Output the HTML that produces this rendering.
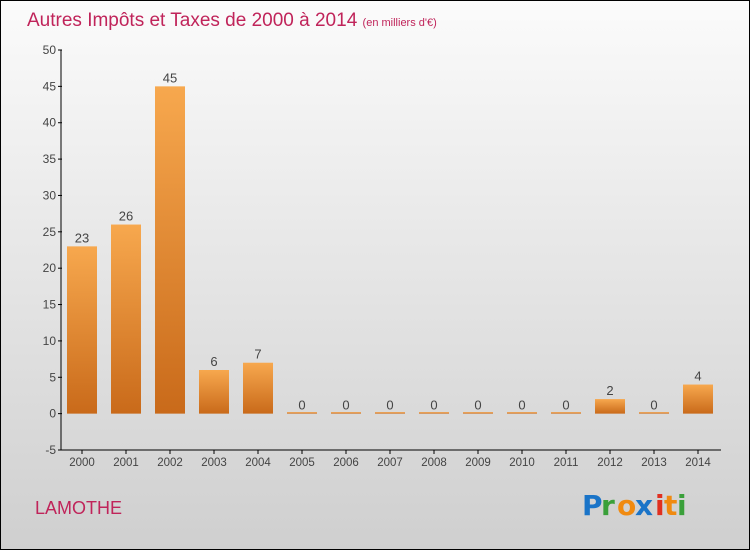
<!DOCTYPE html>
<html><head><meta charset="utf-8"><style>
html,body{margin:0;padding:0}
body{width:750px;height:550px;overflow:hidden;font-family:"Liberation Sans","DejaVu Sans",sans-serif}
</style></head><body>
<svg id="chart" width="750" height="550" xmlns="http://www.w3.org/2000/svg">
<defs>
<linearGradient id="bg" x1="0" y1="0" x2="0" y2="1"><stop offset="0" stop-color="#fbfbfb"/><stop offset="1" stop-color="#cfcfcf"/></linearGradient>
<linearGradient id="bar" x1="0" y1="0" x2="0" y2="1"><stop offset="0" stop-color="#f7a84e"/><stop offset="1" stop-color="#c96a1a"/></linearGradient>
</defs>
<rect x="0.5" y="0.5" width="749" height="549" fill="url(#bg)" stroke="#000"/>
<text x="27" y="26" font-size="19" fill="#c0245a">Autres Impôts et Taxes de 2000 à 2014 <tspan font-size="11">(en milliers d'€)</tspan></text>
<g id="plot"></g>
<text x="35" y="514" font-size="18" fill="#c0245a">LAMOTHE</text>
<g font-size="28" font-weight="bold" font-family="'DejaVu Sans',sans-serif">
<text x="582" y="515" fill="#1a74c8">P</text><text x="601" y="515" fill="#3aa03a">r</text><text x="617" y="515" fill="#f08a10">o</text><text x="635" y="515" fill="#1a74c8">x</text><text x="655" y="515" fill="#e03020">i</text><text x="664" y="515" fill="#f08a10">t</text><text x="677" y="515" fill="#3aa03a">i</text>
</g>
</svg>
<script>
const categories=["2000","2001","2002","2003","2004","2005","2006","2007","2008","2009","2010","2011","2012","2013","2014"];
const values=[23,26,45,6,7,0,0,0,0,0,0,0,2,0,4];
const yTicks=[-5,0,5,10,15,20,25,30,35,40,45,50];
const yMin=-5,yMax=50,plotTop=50,plotBottom=450;
const yScale=v=>plotBottom-(v-yMin)/(yMax-yMin)*(plotBottom-plotTop);
const xScale=i=>82+i*44;
const NS="http://www.w3.org/2000/svg";
const g=document.getElementById('plot');
function mk(t,a){const e=document.createElementNS(NS,t);for(const k in a)e.setAttribute(k,a[k]);g.appendChild(e);return e;}
const ax=mk('line',{x1:61,y1:plotTop,x2:61,y2:plotBottom,stroke:'#000'});


const bx=mk('line',{x1:61,y1:plotBottom,x2:721,y2:plotBottom,stroke:'#000'});


yTicks.forEach(v=>{
 const tk=mk('line',{x1:58,x2:62,y1:yScale(v),y2:yScale(v),stroke:'#000'});
 
 
 const t=mk('text',{x:56,y:yScale(v)+4,'font-size':12,'text-anchor':'end',fill:'#444'});
 t.textContent=v;
 
 
});
categories.forEach((c,i)=>{
 const cx=xScale(i),v=values[i];
 const tk=mk('line',{x1:cx,x2:cx,y1:plotBottom,y2:plotBottom+4,stroke:'#000'});
 
 
 const t=mk('text',{x:cx,y:plotBottom+16,'font-size':11.5,'text-anchor':'middle',fill:'#444'});
 t.textContent=c;
 
 
 const h=Math.max(yScale(0)-yScale(v),1.5);
 const b=mk('rect',{x:cx-15,y:yScale(0)-h,width:30,height:h,fill:'url(#bar)'});
 
 
 const l=mk('text',{x:cx,y:yScale(v)-4,'font-size':13,'text-anchor':'middle',fill:'#444'});
 l.textContent=v;
 
 
});
</script>
</body></html>
